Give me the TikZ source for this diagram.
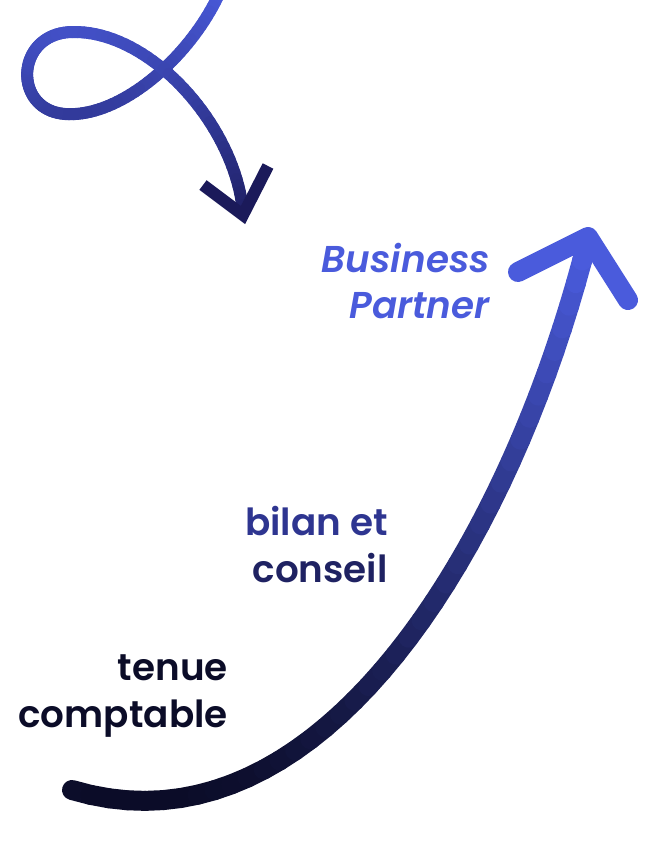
\documentclass[tikz,border=0pt]{standalone}
\usepackage{fontspec}
\setmainfont{Poppins}[BoldFont={Poppins SemiBold}, BoldItalicFont={Poppins SemiBold Italic}]
\definecolor{cblue}{HTML}{4A5BDC}
\definecolor{cnavy}{HTML}{0B0C28}
\definecolor{cdeep}{HTML}{1B1A5A}
\definecolor{cmid}{HTML}{2E3590}
\definecolor{cmid2}{HTML}{1F2262}
% gradient Bezier: colour depends on the height (px) between #5 (blue) and #6 (dark)
\newcommand\gradbez[9]{%
  \path #1 .. controls #2 and #3 .. #4 foreach \k in {0,...,40}{coordinate[pos=\k/40] (q\k)};
  \foreach \k in {0,...,39}{%
    \pgfmathtruncatemacro\kn{\k+1}%
    \pgfpointanchor{q\k}{center}\pgfgetlastxy{\xa}{\ya}%
    \pgfpointanchor{q\kn}{center}\pgfgetlastxy{\xb}{\yb}%
    \pgfmathsetmacro\ym{-(\ya+\yb)/1.5}%
    \pgfmathsetmacro\fr{(#6-\ym)/(#6-#5)}%
    \pgfmathtruncatemacro\cc{max(0,min(100,\fr*100))}%
    \draw[line width=#7, line cap=round, draw=#9!\cc!#8] (q\k) -- (q\kn);
  }}
\tikzset{lbl/.style={anchor=base east, inner sep=0pt, font=\fontsize{28}{31}\selectfont\bfseries}}
\begin{document}
\begin{tikzpicture}[x=0.75pt,y=-0.75pt]
\useasboundingbox (0,0) rectangle (666,858);
\clip (0,0) rectangle (666,858);
% top loop curve
\gradbez{(220,-8)}{(190,58)}{(120,118)}{(65,114)}{-10}{240}{9pt}{cdeep}{cblue}
\gradbez{(65,114)}{(12,110)}{(15,33)}{(72,32)}{-10}{240}{9pt}{cdeep}{cblue}
\gradbez{(72,32)}{(150,30)}{(235,125)}{(243,212)}{-10}{240}{9pt}{cdeep}{cblue}
\coordinate (ta) at (203,185);
\coordinate (tt) at (243,215);
\coordinate (tb) at (268,166);
\draw[cdeep, line width=9pt, line join=miter] (ta) -- (tt) -- (tb);
% big curve
\gradbez{(72,790)}{(322,865)}{(513,538)}{(588,238)}{250}{800}{15pt}{cnavy}{cblue}
\coordinate (ba) at (518,272);
\coordinate (bt) at (588,237);
\coordinate (bb) at (628,300);
\draw[cblue, line width=15pt, line cap=round, line join=round] (ba) -- (bt) -- (bb);
% labels
\node[lbl, text=cblue, font=\fontsize{28}{31}\selectfont\bfseries\itshape] (bp1) at (490,272) {Business};
\node[lbl, text=cblue, font=\fontsize{28}{31}\selectfont\bfseries\itshape] (bp2) at (490,318) {Partner};
\node[lbl, text=cmid] (bc1) at (388,535) {bilan et};
\node[lbl, text=cmid2] (bc2) at (388,582) {conseil};
\node[lbl, text=cnavy] (tc1) at (228,680) {tenue};
\node[lbl, text=cnavy] (tc2) at (228,727) {comptable};
\end{tikzpicture}
\end{document}
